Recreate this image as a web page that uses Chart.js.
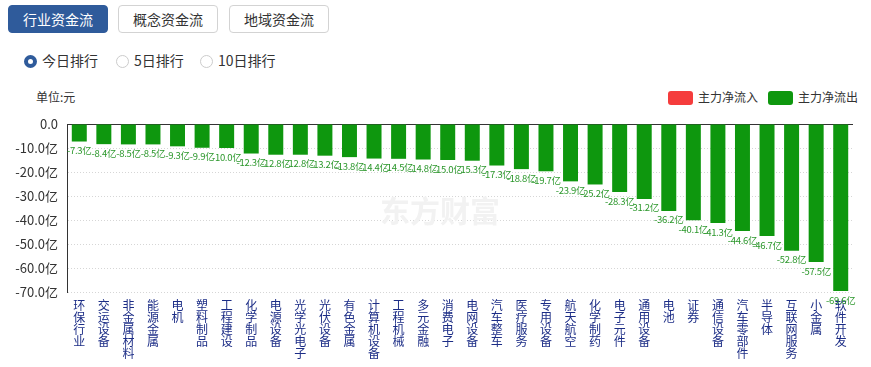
<!DOCTYPE html>
<html>
<head>
<meta charset="utf-8">
<script src="https://cdn.jsdelivr.net/npm/chart.js@4.4.0/dist/chart.umd.min.js"></script>
<style>
  body { margin: 0; width: 871px; height: 367px; background: #fff; font-family: "Noto Sans CJK SC", "Noto Sans", sans-serif; position: relative; overflow: hidden; }
  .tab { position: absolute; top: 5px; height: 28px; width: 100px; box-sizing: border-box; border: 1px solid #d3d3d3; border-radius: 4px; font-size: 14px; line-height: 26px; text-align: center; color: #333; background: #fff; }
  .tab.on { background: #2f5b9b; border-color: #2f5b9b; color: #fff; }
  .radio { position: absolute; top: 50px; font-size: 14px; line-height: 20px; color: #333; }
  .radio i { display: inline-block; width: 13px; height: 13px; box-sizing: border-box; border-radius: 50%; border: 1px solid #ccc; vertical-align: -2px; margin-right: 5px; }
  .radio.on i { border: 4px solid #2f5b9b; }
  .unit { position: absolute; left: 36px; top: 88px; font-size: 12px; color: #333; }
  .leg { position: absolute; top: 89px; font-size: 12px; line-height: 16px; color: #333; }
  .leg i { display: inline-block; width: 25px; height: 14px; border-radius: 3px; vertical-align: -3px; margin-right: 5px; }
  #wrap { position: absolute; left: 0; top: 80px; width: 871px; height: 287px; }
</style>
</head>
<body>
<div class="tab on" style="left:8px">行业资金流</div>
<div class="tab" style="left:118px">概念资金流</div>
<div class="tab" style="left:229px">地域资金流</div>
<div class="radio on" style="left:24px"><i></i>今日排行</div>
<div class="radio" style="left:116px"><i></i>5日排行</div>
<div class="radio" style="left:200px"><i></i>10日排行</div>
<div class="unit">单位:元</div>
<div class="leg" style="left:668px"><i style="background:#f53c3c"></i>主力净流入</div>
<div class="leg" style="left:768px"><i style="background:#0e970e"></i>主力净流出</div>
<div id="wrap"><canvas id="grafico" width="871" height="287"></canvas></div>
<script>
const setores = [
    '环保行业','交运设备','非金属材料','能源金属','电机','塑料制品','工程建设','化学制品',
    '电源设备','光学光电子','光伏设备','有色金属','计算机设备','工程机械','多元金融','消费电子',
    '电网设备','汽车整车','医疗服务','专用设备','航天航空','化学制药','电子元件','通用设备',
    '电池','证券','通信设备','汽车零部件','半导体','互联网服务','小金属','软件开发'
];
const fluxo = [
    -7.3, -8.4, -8.5, -8.5, -9.3, -9.9, -10.0, -12.3,
    -12.8, -12.8, -13.2, -13.8, -14.4, -14.5, -14.8, -15.0,
    -15.3, -17.3, -18.8, -19.7, -23.9, -25.2, -28.3, -31.2,
    -36.2, -40.1, -41.3, -44.6, -46.7, -52.8, -57.5, -69.6
];
const yTicks = [0, -10, -20, -30, -40, -50, -60, -70];

const fonte = '"Noto Sans CJK SC", "Noto Sans", sans-serif';

// marca d'água, linha do zero e rótulos dos valores
const extras = {
    id: 'extras',
    beforeDatasetsDraw(chart) {
        const c = chart.ctx;
        const y = chart.scales.y;
        c.save();
        c.font = 'bold 30px ' + fonte;
        c.fillStyle = '#f2f2f2';
        c.textAlign = 'left';
        c.textBaseline = 'middle';
        c.fillText('东方财富', 380, 131);
        c.strokeStyle = '#333';
        c.lineWidth = 1;
        c.beginPath();
        const y0 = Math.round(y.getPixelForValue(0)) + 0.5;
        c.moveTo(chart.chartArea.left, y0);
        c.lineTo(chart.chartArea.right, y0);
        c.stroke();
        c.restore();
    },
    afterDatasetsDraw(chart) {
        const c = chart.ctx;
        const meta = chart.getDatasetMeta(0);
        c.save();
        c.font = '9.5px ' + fonte;
        c.letterSpacing = '-0.3px';
        c.fillStyle = '#2b972b';
        c.textAlign = 'center';
        c.textBaseline = 'middle';
        meta.data.forEach(function(bar, i) {
            c.fillText(fluxo[i].toFixed(1) + '亿', bar.x, bar.y + 9);
        });
        c.restore();
    }
};

new Chart(document.getElementById('grafico'), {
    type: 'bar',
    data: {
        labels: setores.map(function(s){ return s.split(''); }),
        datasets: [
            {
                label: '主力净流出',
                data: fluxo,
                backgroundColor: '#0e970e',
                categoryPercentage: 1,
                barPercentage: 0.61
            }
        ]
    },
    options: {
        responsive: false,
        animation: false,
        layout: {
            padding: { top: 44, right: 18, left: 0, bottom: 0 }
        },
        plugins: {
            legend: { display: false },
            tooltip: { enabled: false }
        },
        scales: {
            x: {
                grid: { display: false, drawTicks: false },
                border: { display: false },
                ticks: {
                    color: '#1c2d86',
                    font: { family: fonte, size: 12, lineHeight: 1 },
                    padding: 7,
                    maxRotation: 0,
                    autoSkip: false
                },
                afterFit(scale) { scale.height = 75; }
            },
            y: {
                min: -70,
                max: 0,
                afterBuildTicks(scale) {
                    scale.ticks = yTicks.map(function(v){ return { value: v }; });
                },
                grid: { color: '#d6d6d6', drawTicks: false },
                border: { display: true, color: '#333', dash: [1, 2] },
                ticks: {
                    color: '#333',
                    padding: 9,
                    font: { family: fonte, size: 13 },
                    callback: function(value) {
                        return value === 0 ? '0.0' : value.toFixed(1) + '亿';
                    }
                },
                afterFit(scale) { scale.width = 67; }
            }
        }
    },
    plugins: [extras]
});
</script>
</body>
</html>
